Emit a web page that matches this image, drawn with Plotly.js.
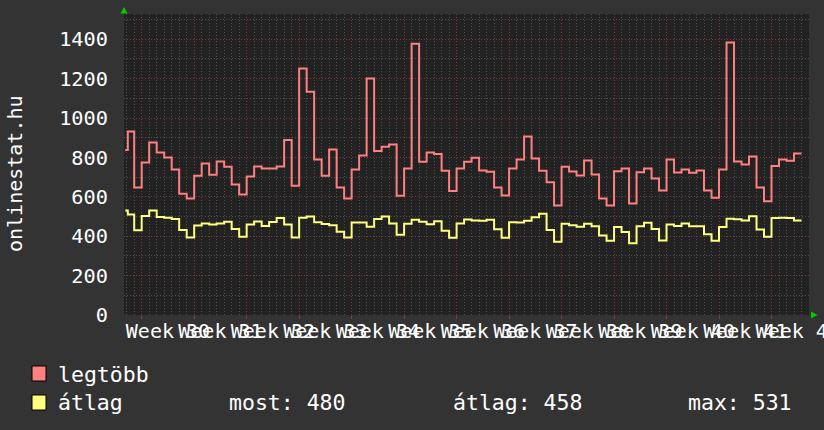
<!DOCTYPE html>
<html><head><meta charset="utf-8">
<script src="https://cdn.plot.ly/plotly-3.0.1.min.js"></script>
<style>html,body{margin:0;padding:0;background:#333333;overflow:hidden}#chart{width:824px;height:430px}</style>
</head><body><div id="chart"></div>
<script>
// ---- data (daily values; day 0 = first day of Week 30) ----
const leadInDays = [-2.2, -1.85];
const firstFullDay = -1;
const legtobbLeadIn = [838, 931];
const atlagLeadIn = [531, 510];
const legtobb = [647,774,876,825,800,739,615,592,707,769,712,779,752,663,612,703,754,744,744,754,
  889,656,1251,1133,790,707,840,647,592,739,810,1200,833,854,866,605,744,1377,778,825,
  817,732,629,744,778,798,734,727,647,607,744,790,906,795,732,674,556,752,729,708,
  784,713,592,556,730,744,566,725,744,693,632,790,724,739,722,734,632,595,739,1383,
  779,764,805,647,578,757,790,783,820];
const atlag = [430,502,530,498,494,487,432,393,454,464,459,465,473,436,397,459,475,452,472,492,
  459,393,494,500,471,462,456,423,393,469,469,448,487,500,464,408,463,483,473,461,
  476,428,392,465,485,480,479,484,435,392,471,470,479,496,514,432,372,463,456,448,
  463,450,404,377,447,421,364,450,468,437,378,460,452,465,451,450,410,377,447,488,
  486,480,501,434,397,493,494,493,480];
const weekLabels = ['Week 30','Week 31','Week 32','Week 33','Week 34','Week 35','Week 36',
  'Week 37','Week 38','Week 39','Week 40','Week 41','Week 42'];
const seriesNames = ['legtöbb', 'átlag'];
const statLabels = ['most: 480', 'átlag: 458', 'max: 531'];

// ---- helpers ----
function buildX(values) {
  const xs = leadInDays.slice();
  for (let i = 0; i < values.length; i++) xs.push(firstFullDay + i);
  xs.push(firstFullDay + values.length);
  return xs;
}
function buildY(lead, values) { return lead.concat(values, [values[values.length - 1]]); }

const W = 824, H = 430, L = 124, R = 15, T = 14, B = 115;
const PW = W - L - R, PH = H - T - B;
const px = x => (x - L) / PW;
const py = y => (H - B - y) / PH;

const FONT = 'DejaVu Sans Mono, monospace';
const RED = '#ff8080', YEL = '#ffff80';
const MAJ = 'rgba(190,70,70,0.6)', MIN = 'rgba(150,150,150,0.38)';
const DOT = '1px,2px';
const xRange = [-2.36, 89.0];

const traces = [
  {x: buildX(legtobb), y: buildY(legtobbLeadIn, legtobb), type: 'scatter', mode: 'lines',
   line: {shape: 'hv', color: RED, width: 2}, name: seriesNames[0], hoverinfo: 'skip'},
  {x: buildX(atlag), y: buildY(atlagLeadIn, atlag), type: 'scatter', mode: 'lines',
   line: {shape: 'hv', color: YEL, width: 2}, name: seriesNames[1], hoverinfo: 'skip'},
  {x: [], y: [], xaxis: 'x2', yaxis: 'y', type: 'scatter', mode: 'lines', showlegend: false, hoverinfo: 'skip'}
];

const weekMid = weekLabels.map((_, k) => 3.5 + 7 * k);

const shapes = [
  {type: 'rect', xref: 'paper', yref: 'paper', x0: px(32), x1: px(46), y0: py(381), y1: py(366),
   fillcolor: RED, line: {color: '#000', width: 1}},
  {type: 'rect', xref: 'paper', yref: 'paper', x0: px(32), x1: px(46), y0: py(410), y1: py(395),
   fillcolor: YEL, line: {color: '#000', width: 1}},
  {type: 'path', xref: 'paper', yref: 'paper',
   path: `M ${px(120.5)} ${py(13.5)} L ${px(127.5)} ${py(13.5)} L ${px(124)} ${py(7)} Z`,
   fillcolor: '#00cc00', line: {width: 0}},
  {type: 'path', xref: 'paper', yref: 'paper',
   path: `M ${px(811)} ${py(311.5)} L ${px(811)} ${py(318.5)} L ${px(817.5)} ${py(315)} Z`,
   fillcolor: '#00cc00', line: {width: 0}}
];

const axFont = {family: FONT, size: 20, color: '#ffffff'};
const legFont = {family: FONT, size: 21.5, color: '#ffffff'};
const annotations = [
  {xref: 'paper', yref: 'paper', x: px(15), y: py(173), text: 'onlinestat.hu', textangle: -90,
   showarrow: false, xanchor: 'center', yanchor: 'middle', font: axFont},
  {xref: 'paper', yref: 'paper', x: px(56), y: py(374), text: seriesNames[0], showarrow: false,
   xanchor: 'left', yanchor: 'middle', font: legFont},
  {xref: 'paper', yref: 'paper', x: px(56), y: py(402), text: seriesNames[1], showarrow: false,
   xanchor: 'left', yanchor: 'middle', font: legFont},
  {xref: 'paper', yref: 'paper', x: px(227), y: py(402), text: statLabels[0], showarrow: false,
   xanchor: 'left', yanchor: 'middle', font: legFont},
  {xref: 'paper', yref: 'paper', x: px(451), y: py(402), text: statLabels[1], showarrow: false,
   xanchor: 'left', yanchor: 'middle', font: legFont},
  {xref: 'paper', yref: 'paper', x: px(686), y: py(402), text: statLabels[2], showarrow: false,
   xanchor: 'left', yanchor: 'middle', font: legFont}
];

const layout = {
  width: W, height: H,
  margin: {l: L, r: R, t: T, b: B, pad: 0},
  paper_bgcolor: '#333333', plot_bgcolor: '#222222',
  showlegend: false,
  font: {family: FONT, color: '#ffffff', size: 20},
  xaxis: {
    range: xRange, tickmode: 'linear', tick0: 0, dtick: 7, showticklabels: false,
    ticks: 'outside', ticklen: 3, tickcolor: MAJ, tickwidth: 1,
    showgrid: true, gridcolor: MAJ, griddash: DOT, gridwidth: 1,
    minor: {tickmode: 'linear', tick0: 0, dtick: 1, showgrid: true, gridcolor: MIN, griddash: DOT, ticks: ''},
    zeroline: false, showline: false, fixedrange: true
  },
  xaxis2: {
    overlaying: 'x', anchor: 'y', side: 'bottom', range: xRange,
    tickmode: 'array', tickvals: weekMid, ticktext: weekLabels, tickangle: 0,
    ticklabeloverflow: 'allow', showgrid: false, zeroline: false, ticks: '',
    tickfont: axFont, ticklabelstandoff: 2, fixedrange: true
  },
  yaxis: {
    range: [0, 1528], tickmode: 'linear', tick0: 0, dtick: 200,
    showgrid: true, gridcolor: MAJ, griddash: DOT, gridwidth: 1,
    minor: {tickmode: 'linear', tick0: 0, dtick: 100, showgrid: true, gridcolor: MIN, griddash: DOT, ticks: ''},
    ticks: '', tickfont: {family: FONT, size: 20.3, color: '#ffffff'}, ticklabelstandoff: 15,
    zeroline: false, showline: false, fixedrange: true
  },
  shapes: shapes,
  annotations: annotations
};

Plotly.newPlot('chart', traces, layout, {displayModeBar: false, staticPlot: true});
</script></body></html>
